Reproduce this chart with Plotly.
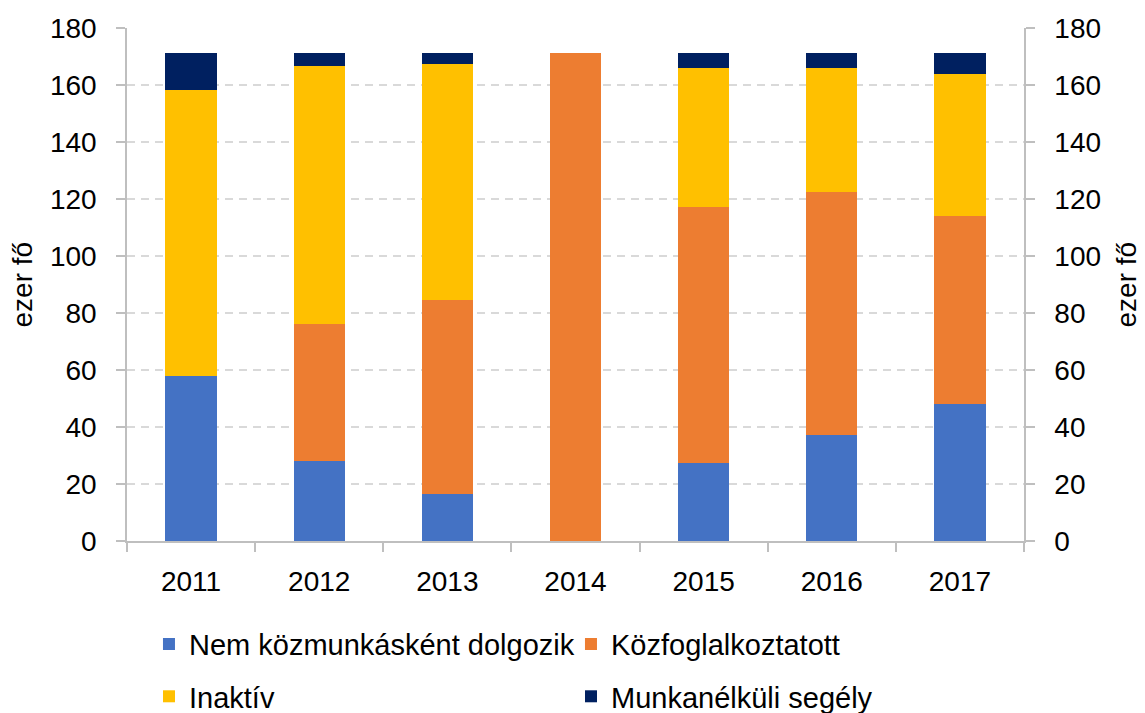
import plotly.graph_objects as go

years = ["2011", "2012", "2013", "2014", "2015", "2016", "2017"]
nem_kozmunkas = [57.8, 28.2, 16.6, 0.0, 27.2, 37.1, 47.9]
kozfoglalkoztatott = [0.0, 47.9, 68.0, 171.1, 89.9, 85.5, 66.0]
inaktiv = [100.6, 90.7, 82.8, 0.0, 49.0, 43.4, 49.8]
munkanelkuli = [12.7, 4.3, 3.7, 0.0, 5.0, 5.1, 7.4]

series_names = ["Nem közmunkásként dolgozik", "Közfoglalkoztatott", "Inaktív", "Munkanélküli segély"]
colors = ["#4472C4", "#ED7D31", "#FFC000", "#002060"]
y_ticks = [0, 20, 40, 60, 80, 100, 120, 140, 160, 180]
y_title = "ezer fő"

FONT = "Liberation Sans"
FS = 28
LFS = 29
GRID = "#d9d9d9"
AXIS = "#bfbfbf"

fig = go.Figure()
data = [nem_kozmunkas, kozfoglalkoztatott, inaktiv, munkanelkuli]
legends = ["legend", "legend", "legend2", "legend2"]
for name, vals, col, lg in zip(series_names, data, colors, legends):
    fig.add_trace(go.Bar(
        x=years, y=vals, name=name, marker_color=col,
        marker_line_width=0, width=0.4, legend=lg,
    ))

totals = [a + b + c + d for a, b, c, d in zip(*data)]
fig.add_trace(go.Scatter(
    x=years, y=totals, yaxis="y2", mode="markers",
    marker=dict(opacity=0), showlegend=False, hoverinfo="skip",
))

axis_common = dict(
    range=[0, 180], tickvals=y_ticks, showline=True, linecolor=AXIS, linewidth=1.5,
    ticks="outside", ticklen=9, tickcolor=AXIS, tickwidth=1.5,
    tickfont=dict(family=FONT, size=FS, color="#000000"),
    ticklabelstandoff=14, zeroline=False, automargin=False,
)

# page body has an 8px margin, so the figure is 8px smaller on each axis
fig.update_layout(
    width=1137, height=705,
    margin=dict(l=119, r=121, t=20, b=172, autoexpand=False),
    paper_bgcolor="white", plot_bgcolor="white",
    barmode="stack",
    font=dict(family=FONT, size=FS, color="#000000"),
    xaxis=dict(
        showline=True, linecolor=AXIS, linewidth=1.5,
        ticks="outside", ticklen=9, tickcolor=AXIS, tickwidth=1.5,
        tickson="boundaries", ticklabelstandoff=15, automargin=False,
        tickfont=dict(family=FONT, size=FS, color="#000000"),
        showgrid=False,
    ),
    yaxis=dict(
        **axis_common, side="left",
        showgrid=True, gridcolor=GRID, gridwidth=1.5, griddash="8px,6px",
    ),
    yaxis2=dict(
        **axis_common, side="right", overlaying="y", showgrid=False,
    ),
    legend=dict(
        orientation="h", x=0.0245, xanchor="left", y=-0.201, yanchor="middle",
        entrywidth=377, font=dict(family=FONT, size=LFS), bgcolor="rgba(0,0,0,0)",
        traceorder="normal", itemclick=False, borderwidth=0,
    ),
    legend2=dict(
        orientation="h", x=0.0245, xanchor="left", y=-0.303, yanchor="middle",
        entrywidth=377, font=dict(family=FONT, size=LFS), bgcolor="rgba(0,0,0,0)",
        traceorder="normal", itemclick=False, borderwidth=0,
    ),
    annotations=[
        dict(text=y_title, textangle=-90, xref="paper", yref="paper",
             x=-0.116, y=0.5, xanchor="center", yanchor="middle", showarrow=False,
             font=dict(family=FONT, size=FS, color="#000000")),
        dict(text=y_title, textangle=-90, xref="paper", yref="paper",
             x=1.1148, y=0.5, xanchor="center", yanchor="middle", showarrow=False,
             font=dict(family=FONT, size=FS, color="#000000")),
    ],
)

fig.write_html("out.html")
